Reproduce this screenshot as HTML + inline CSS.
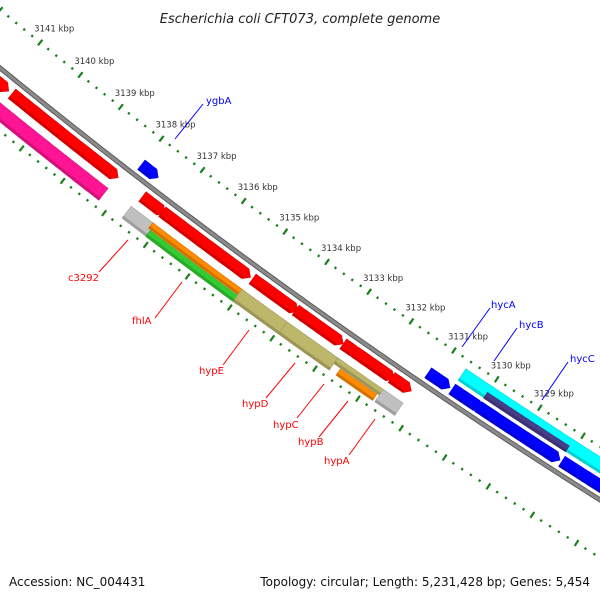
<!DOCTYPE html>
<html><head><meta charset="utf-8"><style>
html,body{margin:0;padding:0;background:#fff;width:600px;height:600px;overflow:hidden}
svg{display:block;font-family:"DejaVu Sans","Liberation Sans",sans-serif}
</style></head><body>
<svg id="map" width="600" height="600" viewBox="0 0 600 600">
<text x="300" y="23" text-anchor="middle" font-size="13" font-style="italic" fill="#222">Escherichia coli CFT073, complete genome</text>
<g id="ticks"></g>
<g id="feats"></g>
<g font-size="10">
<line x1="99" y1="272" x2="128" y2="240" stroke="#f00" stroke-width="1"/>
<text x="68" y="281" fill="#f00">c3292</text>
<line x1="155" y1="318" x2="182" y2="282" stroke="#f00"/>
<text x="132" y="324" fill="#f00">fhlA</text>
<line x1="223" y1="365" x2="249" y2="330" stroke="#f00"/>
<text x="199" y="374" fill="#f00">hypE</text>
<line x1="266" y1="398" x2="295" y2="363" stroke="#f00"/>
<text x="242" y="407" fill="#f00">hypD</text>
<line x1="297" y1="418" x2="324" y2="384" stroke="#f00"/>
<text x="273" y="428" fill="#f00">hypC</text>
<line x1="319" y1="437" x2="348" y2="401" stroke="#f00"/>
<text x="298" y="445" fill="#f00">hypB</text>
<line x1="349" y1="455" x2="375" y2="419" stroke="#f00"/>
<text x="324" y="464" fill="#f00">hypA</text>
<line x1="175" y1="139" x2="203" y2="104" stroke="#00f"/>
<text x="206" y="104" fill="#00f">ygbA</text>
<line x1="462" y1="347" x2="490" y2="308" stroke="#00f"/>
<text x="491" y="308" fill="#00f">hycA</text>
<line x1="494" y1="361" x2="517" y2="328" stroke="#00f"/>
<text x="519" y="328" fill="#00f">hycB</text>
<line x1="542" y1="400" x2="568" y2="362" stroke="#00f"/>
<text x="570" y="362" fill="#00f">hycC</text>
</g>
<text x="9" y="586" font-size="12" fill="#111">Accession: NC_004431</text>
<text x="590" y="586" font-size="12" fill="#111" text-anchor="end">Topology: circular; Length: 5,231,428 bp; Genes: 5,454</text>
</svg>
<script>
// data (kbp positions)
const majorTicks = [3142,3141,3140,3139,3138,3137,3136,3135,3134,3133,3132,3131,3130,3129,3128,3127,3126];
const tickLabels = ["","3141 kbp","3140 kbp","3139 kbp","3138 kbp","3137 kbp","3136 kbp","3135 kbp","3134 kbp","3133 kbp","3132 kbp","3131 kbp","3130 kbp","3129 kbp","","",""];
const featStart = [3142.5,3140.8,3142.5,3138.0,3131.17,3130.61,3130.01,3128.08,3126.85,3130.61,3130.01,3137.61,3137.13,3134.97,3133.95,3132.83,3132.57,3131.70,3137.67,3137.15,3137.10,3135.02,3133.95,3132.76,3132.6,3131.70];
const featEnd   = [3140.88,3138.20,3138.23,3137.59,3130.66,3129.92,3128.12,3126.95,3126.0,3126.3,3128.12,3137.06,3135.02,3133.90,3132.83,3132.48,3131.64,3131.24,3137.06,3134.95,3134.93,3133.95,3132.76,3131.59,3131.75,3131.24];
const featLane  = ["r","r","wide","b","b","b","b","b","b","c","p","r","r","r","r","r","r","r","wide","o","g","wide","wide","o","g","wide"];
const featColor = ["#ff0000","#ff0000","#ff1493","#0000ff","#0000ff","#0000ff","#0000ff","#0000ff","#0000ff","#00ffff","#483d8b","#ff0000","#ff0000","#ff0000","#ff0000","#ff0000","#ff0000","#ff0000","#c0c0c0","#ff8c00","#32cd32","#bdb76b","#bdb76b","#bdb76b","#ff8c00","#c0c0c0"];
const featName  = ["red-gene-1","red-gene-2","pink-gene","ygba-gene","hyca-gene","hycb-arrow-1","hycb-arrow-2","hycb-arrow-3","blue-gene-tail","hycc-cyan","purple-gene","red-gene-3","red-gene-4","red-gene-5","red-gene-6","red-gene-7","red-gene-8","red-gene-9","grey-gene-1","orange-gene-1","green-gene","olive-gene-1","olive-gene-2","olive-gene-3","orange-gene-2","grey-gene-2"];
const arrowLanes = {r:1,b:1};

const CX=3809, CY=-4590, R0=6017, R_UP=5972, R_LO=6066;
const laneR = {r:[6029.5,12], wide:[6051.5,15], o:[6047.5,7], g:[6055.5,7.5], b:[6005,12], c:[5987.5,14], p:[5991.5,7]};
const NS="http://www.w3.org/2000/svg";
function ang(k){return (123.19+(k-3129)*0.495)*Math.PI/180;}
function pt(k,r){const a=ang(k);return [CX+r*Math.cos(a),CY+r*Math.sin(a)];}
function arcPts(k1,k2,r){const pts=[];const n=Math.max(2,Math.ceil(Math.abs(k1-k2)/0.05));for(let i=0;i<=n;i++){pts.push(pt(k1+(k2-k1)*i/n,r));}return pts;}
function mk(tag,attrs,parent){const e=document.createElementNS(NS,tag);for(const k in attrs)e.setAttribute(k,attrs[k]);parent.appendChild(e);return e;}
const tg=document.getElementById('ticks'), fg=document.getElementById('feats');

// backbone
const bb=arcPts(3143,3126,R0).map(p=>p.join(',')).join(' ');
const bb1=mk('polyline',{points:bb,fill:'none',stroke:'#5e5e5e','stroke-width':5},fg);


const bb2=mk('polyline',{points:bb,fill:'none',stroke:'#8a8a8a','stroke-width':3},fg);



// ticks
for(let i=0;i<majorTicks.length;i++){
  const k=majorTicks[i];
  [R_UP,R_LO].forEach(r=>{
    const a=pt(k,r-3.5),b=pt(k,r+3.5);
    const l=mk('line',{x1:a[0],y1:a[1],x2:b[0],y2:b[1],stroke:'#1a801a','stroke-width':2.2},tg);
    
    
    if(i<majorTicks.length-1){
      for(let j=1;j<5;j++){
        const km=k-j*0.2;const c=pt(km,r-1.2),d=pt(km,r+1.2);
        const m=mk('line',{x1:c[0],y1:c[1],x2:d[0],y2:d[1],stroke:'#1a801a','stroke-width':2.2},tg);
        
        
      }
    }
  });
  if(tickLabels[i]){
    const p=pt(k,R_UP);
    const t=mk('text',{x:p[0]-6,y:p[1]-11,'font-size':8.5,fill:'#333'},tg);
    t.textContent=tickLabels[i];
    
    
  }
}

// features
function shade(hex,f){const n=parseInt(hex.slice(1),16);let r=n>>16,g=(n>>8)&255,b=n&255;r=Math.round(r*f);g=Math.round(g*f);b=Math.round(b*f);return 'rgb('+r+','+g+','+b+')';}
for(let i=0;i<featStart.length;i++){
  const [rc,w]=laneR[featLane[i]];
  const s=featStart[i], e=featEnd[i];
  const arrow=arrowLanes[featLane[i]]?Math.min(0.12,(s-e)*0.4):0;
  const inner=arcPts(s,e+arrow,rc-w/2), outer=arcPts(e+arrow,s,rc+w/2);
  let pts=inner.slice();
  if(arrow>0){pts.push(pt(e,rc));}
  pts=pts.concat(outer);
  const poly=mk('polygon',{points:pts.map(p=>p[0].toFixed(1)+','+p[1].toFixed(1)).join(' '),fill:featColor[i],stroke:shade(featColor[i],0.85),'stroke-width':0.6},fg);
  
  
  const hl=arcPts(s,e+arrow,rc+w/2-1.5);
  const h=mk('polyline',{points:hl.map(p=>p.join(',')).join(' '),fill:'none',stroke:'rgba(0,0,0,0.18)','stroke-width':2.5},fg);
  
  
}
</script>
</body></html>
